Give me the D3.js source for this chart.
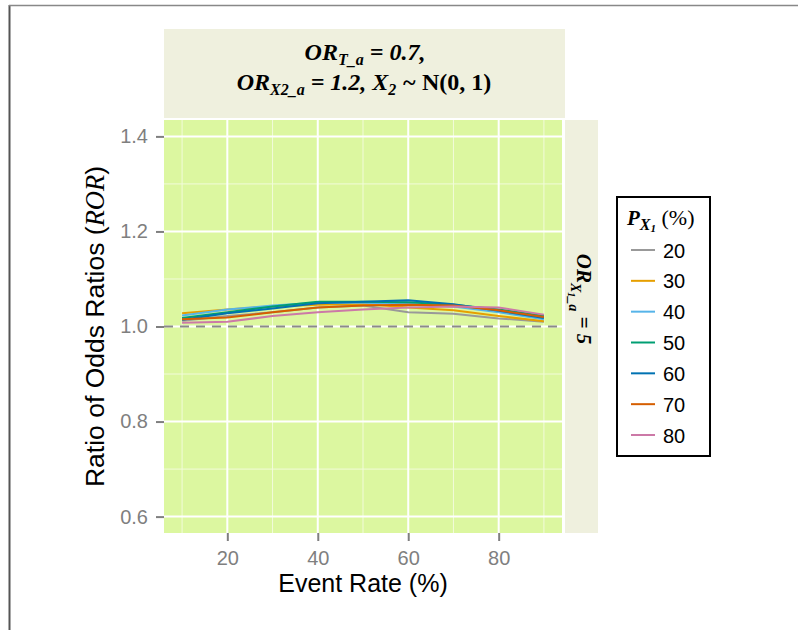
<!DOCTYPE html>
<html>
<head>
<meta charset="utf-8">
<script src="https://cdn.jsdelivr.net/npm/d3@7"></script>
<style>
  body { margin: 0; background: #fff; }
  svg { display: block; }
</style>
</head>
<body>
<svg id="chart" width="798" height="630"></svg>
<script>
// event rate (%) on the x axis
const eventRates = [10, 20, 30, 40, 50, 60, 70, 80, 90];
// P_X1 (%) groups
const groups = ["20", "30", "40", "50", "60", "70", "80"];
const groupColors = ["#999999", "#E69F00", "#56B4E9", "#009E73", "#0072B2", "#D55E00", "#CC79A7"];

// ROR per group
const ror20 = [1.012, 1.022, 1.030, 1.040, 1.044, 1.030, 1.027, 1.017, 1.010];
const ror30 = [1.028, 1.036, 1.042, 1.046, 1.048, 1.040, 1.034, 1.022, 1.011];
const ror40 = [1.023, 1.036, 1.044, 1.050, 1.050, 1.048, 1.042, 1.030, 1.015];
const ror50 = [1.018, 1.030, 1.042, 1.052, 1.052, 1.051, 1.046, 1.036, 1.022];
const ror60 = [1.014, 1.028, 1.038, 1.049, 1.052, 1.055, 1.047, 1.033, 1.018];
const ror70 = [1.015, 1.019, 1.030, 1.040, 1.044, 1.046, 1.044, 1.034, 1.020];
const ror80 = [1.008, 1.010, 1.022, 1.030, 1.036, 1.040, 1.042, 1.040, 1.025];
const series = [ror20, ror30, ror40, ror50, ror60, ror70, ror80];

const xTicks = [20, 40, 60, 80];
const xMinor = [10, 30, 50, 70, 90];
const yTicks = [0.6, 0.8, 1.0, 1.2, 1.4];
const yMinor = [0.7, 0.9, 1.1, 1.3];

const sans = "'Liberation Sans', Arial, sans-serif";
const serif = "'Liberation Serif', 'Times New Roman', serif";

const svg = d3.select("#chart");

// outer frame (left and top edges are what is visible)
svg.append("line").attr("x1", 9.5).attr("x2", 9.5).attr("y1", 5).attr("y2", 630)
  .attr("stroke", "#555").attr("stroke-width", 2);
svg.append("line").attr("x1", 9).attr("x2", 798).attr("y1", 5.5).attr("y2", 5.5)
  .attr("stroke", "#888").attr("stroke-width", 1.5);

const panel = { left: 164, right: 562, top: 120, bottom: 533 };

const x = d3.scaleLinear().domain([6, 94]).range([panel.left, panel.right]);
const y = d3.scaleLinear().domain([0.5655, 1.4345]).range([panel.bottom, panel.top]);

// strips
svg.append("rect").attr("x", 164).attr("y", 29).attr("width", 401).attr("height", 89)
  .attr("fill", "#EFF0DE");
svg.append("rect").attr("x", 565).attr("y", 120).attr("width", 33).attr("height", 413)
  .attr("fill", "#EFF0DE");

// panel background
svg.append("rect").attr("x", panel.left).attr("y", panel.top)
  .attr("width", panel.right - panel.left).attr("height", panel.bottom - panel.top)
  .attr("fill", "#DCF7A0");

const grid = svg.append("g");
xMinor.forEach(v => grid.append("line")
  .attr("x1", x(v)).attr("x2", x(v)).attr("y1", panel.top).attr("y2", panel.bottom)
  .attr("stroke", "#F2FBDA").attr("stroke-width", 1));
yMinor.forEach(v => grid.append("line")
  .attr("y1", y(v)).attr("y2", y(v)).attr("x1", panel.left).attr("x2", panel.right)
  .attr("stroke", "#F2FBDA").attr("stroke-width", 1));
xTicks.forEach(v => grid.append("line")
  .attr("x1", x(v)).attr("x2", x(v)).attr("y1", panel.top).attr("y2", panel.bottom)
  .attr("stroke", "#fff").attr("stroke-width", 2));
yTicks.forEach(v => grid.append("line")
  .attr("y1", y(v)).attr("y2", y(v)).attr("x1", panel.left).attr("x2", panel.right)
  .attr("stroke", "#fff").attr("stroke-width", 2));

// axes
const xAxis = svg.append("g")
  .attr("transform", `translate(0,${panel.bottom})`)
  .call(d3.axisBottom(x).tickValues(xTicks).tickSize(8).tickPadding(10).tickFormat(d3.format("d")));
const yAxis = svg.append("g")
  .attr("transform", `translate(${panel.left},0)`)
  .call(d3.axisLeft(y).tickValues(yTicks).tickSize(8).tickPadding(8).tickFormat(d3.format(".1f")));
[xAxis, yAxis].forEach(a => {
  a.attr("font-size", null).attr("font-family", null);
  a.select(".domain").remove();
  a.selectAll(".tick line").attr("stroke", "#7f7f7f").attr("stroke-width", 2);
  a.selectAll(".tick text").attr("fill", "#7f7f7f")
    .style("font-family", sans).style("font-size", "20px");
});

// reference line at 1
svg.append("line").attr("x1", panel.left).attr("x2", panel.right)
  .attr("y1", y(1)).attr("y2", y(1))
  .attr("stroke", "#8a8a8a").attr("stroke-width", 2).attr("stroke-dasharray", "9,7");

// series lines
const line = d3.line().x((d, i) => x(eventRates[i])).y(d => y(d));
series.forEach((s, i) => {
  svg.append("path").datum(s)
    .attr("fill", "none")
    .attr("stroke", groupColors[i])
    .attr("stroke-width", 2)
    .attr("d", line);
});

// axis titles
svg.append("text").attr("x", x(50)).attr("y", 592)
  .attr("text-anchor", "middle")
  .style("font-family", sans).style("font-size", "25px")
  .text("Event Rate (%)");

const yt = svg.append("text")
  .attr("transform", `translate(104,${y(1)}) rotate(-90)`)
  .attr("text-anchor", "middle")
  .style("font-family", sans).style("font-size", "26.5px");
yt.append("tspan").text("Ratio of Odds Ratios (");
yt.append("tspan").style("font-family", serif)
  .style("font-style", "italic").text("ROR");
yt.append("tspan").text(")");

// top strip label
function addSub(t, base, sub, rest) {
  t.append("tspan").text(base);
  t.append("tspan").attr("dy", 5).style("font-size", "16px").text(sub);
  t.append("tspan").attr("dy", -5).text(rest);
}
const s1 = svg.append("text").attr("x", 365).attr("y", 60).attr("text-anchor", "middle")
  .style("font-family", serif).style("font-size", "24px")
  .style("font-weight", "bold").style("font-style", "italic");
addSub(s1, "OR", "T_a", " = 0.7,");

const s2 = svg.append("text").attr("x", 364).attr("y", 90).attr("text-anchor", "middle")
  .style("font-family", serif).style("font-size", "24px")
  .style("font-weight", "bold").style("font-style", "italic");
addSub(s2, "OR", "X2_a", " = 1.2, X");
s2.append("tspan").attr("dy", 5).style("font-size", "16px").text("2");
s2.append("tspan").attr("dy", -5).text(" ~ ");
s2.append("tspan").style("font-style", "normal").text("N(0, 1)");

// right strip label
const s3 = svg.append("text")
  .attr("transform", `translate(577,299) rotate(90)`)
  .attr("text-anchor", "middle")
  .style("font-family", serif).style("font-size", "21px")
  .style("font-weight", "bold").style("font-style", "italic");
s3.append("tspan").text("OR");
s3.append("tspan").attr("dy", 6).style("font-size", "14px").text("X");
s3.append("tspan").attr("dy", 3).style("font-size", "10px").text("1");
s3.append("tspan").attr("dy", -1).style("font-size", "14px").text("_a");
s3.append("tspan").attr("dy", -8).text(" = 5");

// legend
const legend = svg.append("g").attr("transform", "translate(617,197)");
legend.append("rect").attr("x", 0).attr("y", 0).attr("width", 93).attr("height", 259)
  .attr("fill", "#fff").attr("stroke", "#000").attr("stroke-width", 2);
const lt = legend.append("text").attr("x", 10).attr("y", 28)
  .style("font-family", serif).style("font-size", "21px");
lt.append("tspan").style("font-weight", "bold").style("font-style", "italic").text("P");
lt.append("tspan").attr("dy", 5).style("font-weight", "bold").style("font-style", "italic")
  .style("font-size", "16px").text("X");
lt.append("tspan").attr("dy", 2).style("font-weight", "bold").style("font-style", "italic")
  .style("font-size", "11px").text("1");
lt.append("tspan").attr("dy", -7).style("font-size", "22px").text(" (%)");

const ly = d3.scalePoint().domain(groups).range([53, 238]);
groups.forEach((g, i) => {
  const row = legend.append("g").attr("transform", `translate(0,${ly(g)})`);
  row.append("line").attr("x1", 14).attr("x2", 38).attr("y1", 0).attr("y2", 0)
    .attr("stroke", groupColors[i]).attr("stroke-width", 2);
  row.append("text").attr("x", 46).attr("y", 7.5)
    .style("font-family", sans).style("font-size", "20px")
    .text(g);
});
</script>
</body>
</html>
